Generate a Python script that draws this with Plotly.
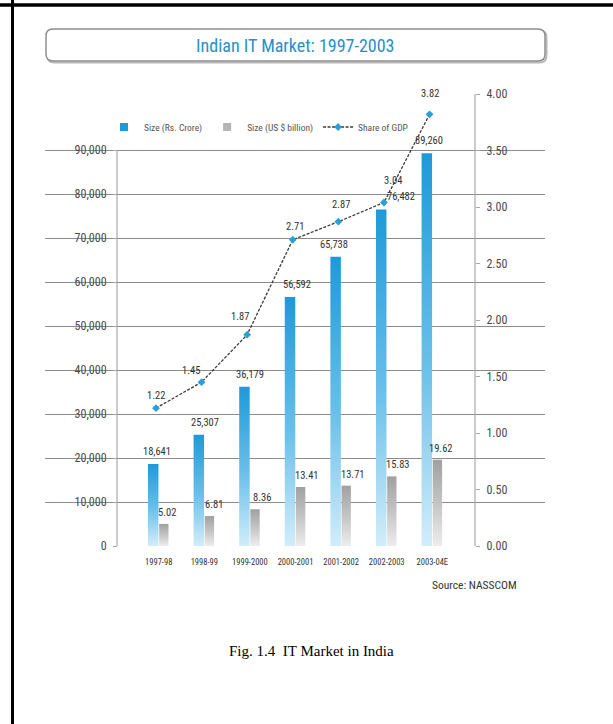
import plotly.graph_objects as go

# ---- data -------------------------------------------------------------
years = ["1997-98", "1998-99", "1999-2000", "2000-2001", "2001-2002", "2002-2003", "2003-04E"]
size_crore = [18641, 25307, 36179, 56592, 65738, 76482, 89260]      # Rs. crore
size_usd_bn = [5.02, 6.81, 8.36, 13.41, 13.71, 15.83, 19.62]         # US $ billion
gdp_share = [1.22, 1.45, 1.87, 2.71, 2.87, 3.04, 3.82]               # % of GDP
crore_ticks = [0, 10000, 20000, 30000, 40000, 50000, 60000, 70000, 80000, 90000]
gdp_ticks = [0.0, 0.5, 1.0, 1.5, 2.0, 2.5, 3.0, 3.5, 4.0]

# ---- page geometry helpers (pixels -> paper fractions) ------------------
W, H = 613, 724


def px(x):
    return x / W


def py(y):
    return 1 - y / H


NARROW = "Roboto Condensed, Liberation Sans Narrow, Liberation Sans, Arial, sans-serif"
SERIF = "Liberation Serif, Times New Roman, serif"

BLUE_TOP, GRAY_TOP = "#1e9ad8", "#a0a0a0"
BLUE_SCALE = [[0, "#d2edfa"], [0.45, "#6cc0ea"], [1, BLUE_TOP]]
GRAY_SCALE = [[0, "#ededed"], [0.5, "#c4c4c4"], [1, GRAY_TOP]]
BLUE_X = (-0.235, -0.005)
GRAY_X = (0.01, 0.215)
LINE_DX = -0.06

fig = go.Figure()


def bar_polygon(i, lo, hi, value):
    a, b = i + lo, i + hi
    return [a, a, b, b, a], [0, value, value, 0, 0]


# Rupee-crore bars, each with its own vertical gradient
for i, v in enumerate(size_crore):
    xs, ys = bar_polygon(i, BLUE_X[0], BLUE_X[1], v)
    fig.add_trace(go.Scatter(
        x=xs, y=ys, mode="none", fill="toself",
        fillgradient=dict(type="vertical", colorscale=BLUE_SCALE),
        name="Size (Rs. Crore)", showlegend=False, hoverinfo="skip", yaxis="y"))

# US$ billion bars on their own (hidden) scale
for i, v in enumerate(size_usd_bn):
    xs, ys = bar_polygon(i, GRAY_X[0], GRAY_X[1], v)
    fig.add_trace(go.Scatter(
        x=xs, y=ys, mode="none", fill="toself",
        fillgradient=dict(type="vertical", colorscale=GRAY_SCALE),
        name="Size (US $ billion)", showlegend=False, hoverinfo="skip", yaxis="y3"))

# legend keys for the two bar series (square swatches)
for name, colour in [("Size (Rs. Crore)", BLUE_TOP), ("Size (US $ billion)", "#b4b4b4")]:
    fig.add_trace(go.Scatter(
        x=[None], y=[None], mode="markers", name=name,
        marker=dict(symbol="square", size=8, color=colour)))

# Share of GDP line
fig.add_trace(go.Scatter(
    x=[i + LINE_DX for i in range(len(years))], y=gdp_share, yaxis="y2",
    mode="lines+markers", name="Share of GDP",
    line=dict(color="#3a3a3a", width=1.3, dash="3px,1.5px"),
    marker=dict(symbol="diamond", size=6, color="#2b9fd8")))

# ---- value labels -------------------------------------------------------
label_font = dict(family=NARROW, size=10.5, color="#333333")
annotations = []
crore_nudge = [4, 6, 6, 7, -2, 20, 2]
for i, v in enumerate(size_crore):
    annotations.append(dict(
        x=i + sum(BLUE_X) / 2, y=v, xref="x", yref="y", text=f"{v:,}",
        showarrow=False, xanchor="center", yanchor="bottom",
        xshift=crore_nudge[i], yshift=4, font=label_font))

usd_nudge = [3, 5, 7, 6, 7, 6, 4]
for i, v in enumerate(size_usd_bn):
    annotations.append(dict(
        x=i + sum(GRAY_X) / 2, y=v, xref="x", yref="y3", text=f"{v:.2f}",
        showarrow=False, xanchor="center", yanchor="bottom",
        xshift=usd_nudge[i], yshift=3, font=label_font))

gdp_dx = [0, -11, -7, 2, 3, 9, 0]
gdp_dy = [13, 12, 18, 13, 17, 22, 21]
for i, v in enumerate(gdp_share):
    annotations.append(dict(
        x=i + LINE_DX, y=v, xref="x", yref="y2", text=f"{v:.2f}",
        showarrow=False, xanchor="center", yanchor="middle",
        xshift=gdp_dx[i], yshift=gdp_dy[i], font=label_font))

# Title, source and caption
annotations.append(dict(
    x=px(295), y=py(45), xref="paper", yref="paper", showarrow=False,
    xanchor="center", yanchor="middle", text="Indian IT Market: 1997-2003",
    font=dict(family=NARROW, size=18, color="#2a8fc6")))
annotations.append(dict(
    x=px(474), y=py(585), xref="paper", yref="paper", showarrow=False,
    xanchor="center", yanchor="middle", text="Source: NASSCOM",
    font=dict(family=NARROW, size=11.5, color="#333333")))
annotations.append(dict(
    x=px(311), y=py(651), xref="paper", yref="paper", showarrow=False,
    xanchor="center", yanchor="middle", text="Fig. 1.4  IT Market in India",
    font=dict(family=SERIF, size=15, color="#000000")))


# ---- decorative shapes --------------------------------------------------
def rounded_rect(x0, y0, x1, y1, r):
    pts = [
        f"M {px(x0 + r)},{py(y0)}",
        f"L {px(x1 - r)},{py(y0)}",
        f"Q {px(x1)},{py(y0)} {px(x1)},{py(y0 + r)}",
        f"L {px(x1)},{py(y1 - r)}",
        f"Q {px(x1)},{py(y1)} {px(x1 - r)},{py(y1)}",
        f"L {px(x0 + r)},{py(y1)}",
        f"Q {px(x0)},{py(y1)} {px(x0)},{py(y1 - r)}",
        f"L {px(x0)},{py(y0 + r)}",
        f"Q {px(x0)},{py(y0)} {px(x0 + r)},{py(y0)}",
        "Z",
    ]
    return " ".join(pts)


LEFT_AXIS_X = px(117)
RIGHT_AXIS_X = px(475)

shapes = [
    # page frame
    dict(type="line", xref="paper", yref="paper", x0=px(12.5), x1=px(12.5), y0=0, y1=1,
         line=dict(color="black", width=3)),
    dict(type="line", xref="paper", yref="paper", x0=0, x1=1, y0=py(5), y1=py(5),
         line=dict(color="black", width=3.5)),
    # title box with soft shadow
    dict(type="path", xref="paper", yref="paper", path=rounded_rect(47.5, 30.5, 546.5, 62.5, 7),
         line=dict(color="#b8b8b8", width=2), fillcolor="rgba(0,0,0,0)", layer="below"),
    dict(type="path", xref="paper", yref="paper", path=rounded_rect(46, 29, 545, 61, 7),
         line=dict(color="#8e8e8e", width=1.5), fillcolor="white", layer="below"),
    # axis spines
    dict(type="line", xref="paper", yref="y", x0=LEFT_AXIS_X, x1=LEFT_AXIS_X,
         y0=0, y1=crore_ticks[-1], line=dict(color="#a8a8a8", width=1.2)),
    dict(type="line", xref="paper", yref="y2", x0=RIGHT_AXIS_X, x1=RIGHT_AXIS_X,
         y0=0, y1=gdp_ticks[-1], line=dict(color="#a8a8a8", width=1.2)),
]

# ---- axes ---------------------------------------------------------------
Y_DOMAIN = [py(546), py(94)]
CRORE_MAX = 102727
GDP_MAX = 4.0
USD_MAX = CRORE_MAX / 1000

tick_font = dict(family=NARROW, size=12, color="#4a4a4a")

fig.update_layout(
    width=W, height=H,
    margin=dict(l=0, r=0, t=0, b=0, autoexpand=False),
    paper_bgcolor="white", plot_bgcolor="rgba(0,0,0,0)",
    showlegend=True,
    legend=dict(orientation="h", x=px(104), y=py(127), xanchor="left", yanchor="middle",
                font=dict(family=NARROW, size=9.5, color="#555555"),
                bgcolor="rgba(0,0,0,0)", itemwidth=30, tracegroupgap=0,
                traceorder="normal"),
    xaxis=dict(domain=[px(45), px(545)], range=[-2.4934, 8.4715],
               tickmode="array", tickvals=list(range(len(years))), ticktext=years,
               tickangle=0, automargin=False,
               showgrid=False, zeroline=False, showline=False, ticks="",
               ticklabelstandoff=9,
               tickfont=dict(family=NARROW, size=8.5, color="#333333")),
    yaxis=dict(domain=Y_DOMAIN, range=[0, CRORE_MAX], anchor="free", position=LEFT_AXIS_X,
               side="left", tickmode="array", tickvals=crore_ticks,
               ticktext=[f"{t:,}" for t in crore_ticks], automargin=False,
               showgrid=True, gridcolor="#8c8c8c", gridwidth=1.2,
               zeroline=False, showline=False,
               ticks="outside", ticklen=4, tickcolor="#a8a8a8", ticklabelstandoff=4,
               tickfont=tick_font),
    yaxis2=dict(domain=Y_DOMAIN, range=[0, GDP_MAX], overlaying="y", anchor="free",
                position=RIGHT_AXIS_X, side="right", tickmode="array", tickvals=gdp_ticks,
                ticktext=[f"{t:.2f}" for t in gdp_ticks], automargin=False,
                showgrid=False, zeroline=False, showline=False,
                ticks="outside", ticklen=4, tickcolor="#a8a8a8", ticklabelstandoff=4,
                tickfont=tick_font),
    yaxis3=dict(domain=Y_DOMAIN, range=[0, USD_MAX], overlaying="y", visible=False),
    yaxis4=dict(domain=Y_DOMAIN, range=[0, CRORE_MAX], overlaying="y", anchor="free",
                position=LEFT_AXIS_X, side="left", tickmode="array", tickvals=crore_ticks,
                showticklabels=False, showgrid=False, zeroline=False, showline=False,
                ticks="inside", ticklen=4, tickcolor="#a8a8a8", automargin=False),
    yaxis5=dict(domain=Y_DOMAIN, range=[0, GDP_MAX], overlaying="y", anchor="free",
                position=RIGHT_AXIS_X, side="right", tickmode="array", tickvals=gdp_ticks,
                showticklabels=False, showgrid=False, zeroline=False, showline=False,
                ticks="inside", ticklen=4, tickcolor="#a8a8a8", automargin=False),
    annotations=annotations,
    shapes=shapes,
)

fig.write_html("out.html")
